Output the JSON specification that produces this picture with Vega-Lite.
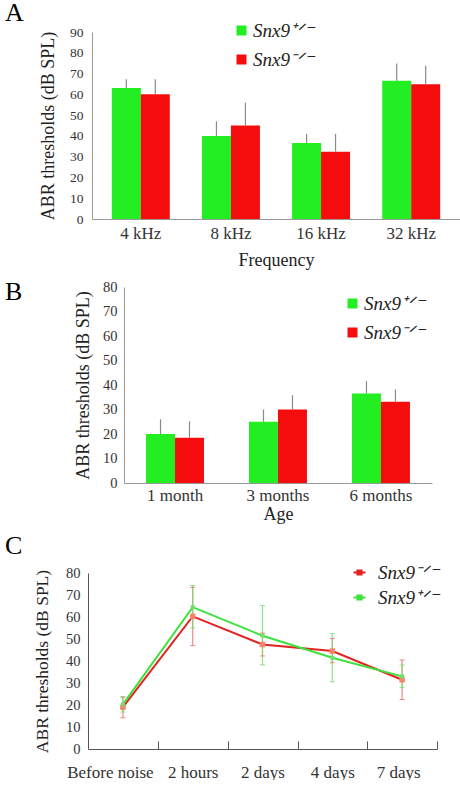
{
  "$schema": "https://vega.github.io/schema/vega-lite/v6.json",
  "background": "white",
  "padding": {"left": 5, "top": 0, "right": 0, "bottom": 0},
  "config": {
    "font": "Liberation Serif",
    "view": {"stroke": null},
    "axis": {
      "labelFont": "Liberation Serif",
      "titleFont": "Liberation Serif",
      "labelColor": "#333333",
      "titleColor": "#222222",
      "titleFontWeight": "normal",
      "labelOverlap": false,
      "grid": false
    },
    "legend": {
      "labelFont": "Liberation Serif",
      "labelFontStyle": "italic",
      "labelColor": "#222222",
      "labelFontSize": 19,
      "padding": 0
    },
    "title": {"font": "Liberation Serif", "fontWeight": "normal", "fontSize": 26, "color": "#000000", "anchor": "start", "frame": "group", "baseline": "alphabetic"}
  },
  "resolve": {"scale": {"color": "independent"}, "legend": {"color": "independent"}},
  "spacing": 10,
  "vconcat": [
    {
      "title": {"text": "A", "dx": -83, "offset": -5},
      "width": 372,
      "height": 187,
      "data": {
        "values": [
          {"group": "4 kHz", "genotype": "Snx9+/-", "mean": 63.0, "upper": 67.2},
          {"group": "4 kHz", "genotype": "Snx9-/-", "mean": 60.0, "upper": 67.2},
          {"group": "8 kHz", "genotype": "Snx9+/-", "mean": 40.0, "upper": 47.0},
          {"group": "8 kHz", "genotype": "Snx9-/-", "mean": 45.0, "upper": 56.0},
          {"group": "16 kHz", "genotype": "Snx9+/-", "mean": 36.6, "upper": 41.0},
          {"group": "16 kHz", "genotype": "Snx9-/-", "mean": 32.4, "upper": 41.0},
          {"group": "32 kHz", "genotype": "Snx9+/-", "mean": 66.5, "upper": 74.8},
          {"group": "32 kHz", "genotype": "Snx9-/-", "mean": 64.8, "upper": 73.8}
        ]
      },
      "encoding": {
        "x": {
          "field": "group", "type": "nominal",
          "sort": ["4 kHz", "8 kHz", "16 kHz", "32 kHz"],
          "scale": {"range": [4, 372], "paddingInner": 0.357, "paddingOuter": 0.22},
          "axis": {"title": "Frequency", "labelAngle": 0, "labelFontSize": 17, "titleFontSize": 18, "ticks": false, "domainColor": "#999999", "labelPadding": 6, "titlePadding": 10}
        },
        "xOffset": {"field": "genotype", "type": "nominal", "sort": ["Snx9+/-", "Snx9-/-"], "scale": {"paddingInner": 0, "paddingOuter": 0}},
        "y": {
          "field": "mean", "type": "quantitative",
          "scale": {"domain": [0, 90], "nice": false},
          "axis": {"title": "ABR thresholds (dB SPL)", "offset": -4, "titleFontSize": 18, "labelFontSize": 13.5, "ticks": false, "domainColor": "#999999", "labelPadding": 9, "titlePadding": 12, "values": [0, 10, 20, 30, 40, 50, 60, 70, 80, 90]}
        }
      },
      "layer": [
        {
          "mark": {"type": "bar"},
          "encoding": {
            "color": {
              "field": "genotype", "type": "nominal",
              "scale": {"domain": ["Snx9+/-", "Snx9-/-"], "range": ["#22ee22", "#f50d0d"]},
              "legend": {"title": null, "orient": "none", "legendX": 144, "legendY": -11, "symbolType": "square", "symbolSize": 100, "symbolStrokeWidth": 0, "rowPadding": 9, "labelOffset": 2,
                "labelExpr": "datum.label === 'Snx9+/-' ? 'Snx9⁺ᐟ⁻' : 'Snx9⁻ᐟ⁻'"}
            }
          }
        },
        {
          "mark": {"type": "rule", "color": "#8a8a8a", "strokeWidth": 1.2},
          "encoding": {"y2": {"field": "upper"}}
        }
      ]
    },
    {
      "title": {"text": "B", "dx": -83, "dy": -3, "offset": -29},
      "width": 344,
      "height": 196,
      "data": {
        "values": [
          {"group": "1 month", "genotype": "Snx9+/-", "mean": 20.0, "upper": 26.0},
          {"group": "1 month", "genotype": "Snx9-/-", "mean": 18.5, "upper": 25.2},
          {"group": "3 months", "genotype": "Snx9+/-", "mean": 25.0, "upper": 30.0},
          {"group": "3 months", "genotype": "Snx9-/-", "mean": 30.0, "upper": 35.8},
          {"group": "6 months", "genotype": "Snx9+/-", "mean": 36.5, "upper": 41.6},
          {"group": "6 months", "genotype": "Snx9-/-", "mean": 33.2, "upper": 38.2}
        ]
      },
      "encoding": {
        "x": {
          "field": "group", "type": "nominal",
          "sort": ["1 month", "3 months", "6 months"],
          "scale": {"range": [36, 344], "paddingInner": 0.437, "paddingOuter": 0.214},
          "axis": {"title": "Age", "labelAngle": 0, "labelFontSize": 17, "titleFontSize": 18, "ticks": false, "domainColor": "#999999", "labelPadding": 4, "titlePadding": 2}
        },
        "xOffset": {"field": "genotype", "type": "nominal", "sort": ["Snx9+/-", "Snx9-/-"], "scale": {"paddingInner": 0, "paddingOuter": 0}},
        "y": {
          "field": "mean", "type": "quantitative",
          "scale": {"domain": [0, 80], "nice": false},
          "axis": {"title": "ABR thresholds (dB SPL)", "offset": -36, "titleFontSize": 18, "labelFontSize": 14.5, "ticks": false, "domainColor": "#999999", "labelPadding": 7, "titlePadding": 10, "values": [0, 10, 20, 30, 40, 50, 60, 70, 80]}
        }
      },
      "layer": [
        {
          "mark": {"type": "bar"},
          "encoding": {
            "color": {
              "field": "genotype", "type": "nominal",
              "scale": {"domain": ["Snx9+/-", "Snx9-/-"], "range": ["#22ee22", "#f50d0d"]},
              "legend": {"title": null, "orient": "none", "legendX": 255, "legendY": 7, "symbolType": "square", "symbolSize": 100, "symbolStrokeWidth": 0, "rowPadding": 9, "labelOffset": 2,
                "labelExpr": "datum.label === 'Snx9+/-' ? 'Snx9⁺ᐟ⁻' : 'Snx9⁻ᐟ⁻'"}
            }
          }
        },
        {
          "mark": {"type": "rule", "color": "#8a8a8a", "strokeWidth": 1.2},
          "encoding": {"y2": {"field": "upper"}}
        }
      ]
    },
    {
      "title": {"text": "C", "dx": -83, "offset": 4},
      "width": 349,
      "height": 176,
      "data": {
        "values": [
          {"time": "Before noise", "genotype": "Snx9-/-", "mean": 19.0, "lower": 14.2, "upper": 23.6},
          {"time": "2 hours", "genotype": "Snx9-/-", "mean": 60.3, "lower": 47.0, "upper": 73.5},
          {"time": "2 days", "genotype": "Snx9-/-", "mean": 47.5, "lower": 42.3, "upper": 52.7},
          {"time": "4 days", "genotype": "Snx9-/-", "mean": 44.5, "lower": 39.2, "upper": 50.2},
          {"time": "7 days", "genotype": "Snx9-/-", "mean": 31.5, "lower": 22.5, "upper": 40.5},
          {"time": "Before noise", "genotype": "Snx9+/-", "mean": 20.3, "lower": 16.8, "upper": 23.8},
          {"time": "2 hours", "genotype": "Snx9+/-", "mean": 64.5, "lower": 55.0, "upper": 74.3},
          {"time": "2 days", "genotype": "Snx9+/-", "mean": 51.5, "lower": 38.2, "upper": 65.2},
          {"time": "4 days", "genotype": "Snx9+/-", "mean": 41.5, "lower": 30.6, "upper": 52.4},
          {"time": "7 days", "genotype": "Snx9+/-", "mean": 33.0, "lower": 28.0, "upper": 38.2}
        ]
      },
      "encoding": {
        "x": {
          "field": "time", "type": "ordinal",
          "sort": ["Before noise", "2 hours", "2 days", "4 days", "7 days"],
          "scale": {"type": "point", "padding": 0.5},
          "axis": {"title": null, "labelAngle": 0, "labelFontSize": 17, "domainColor": "#555555", "tickColor": "#555555", "tickSize": -8, "tickOffset": 35, "labelPadding": 23,
            "labelOffset": {"condition": [{"test": "datum.value === 'Before noise'", "value": -48}, {"test": "datum.value === '7 days'", "value": -39}], "value": -35}}
        }
      },
      "layer": [
        {
          "mark": {"type": "line", "strokeWidth": 2},
          "encoding": {
            "y": {
              "field": "mean", "type": "quantitative",
              "scale": {"domain": [0, 80], "nice": false},
              "axis": {"title": "ABR thresholds (dB SPL)", "titleFontSize": 17.5, "labelFontSize": 14.5, "ticks": false, "domainColor": "#555555", "labelPadding": 8, "titlePadding": 14, "values": [0, 10, 20, 30, 40, 50, 60, 70, 80]}
            },
            "color": {
              "field": "genotype", "type": "nominal",
              "scale": {"domain": ["Snx9-/-", "Snx9+/-"], "range": ["#e32222", "#3ee03e"]},
              "legend": {"title": null, "orient": "none", "legendX": 262, "legendY": -10, "symbolType": "M-1,0H1M-0.35,-0.35H0.35V0.35H-0.35Z", "symbolSize": 144, "symbolStrokeWidth": 2, "rowPadding": 5, "labelOffset": 9,
                "labelExpr": "datum.label === 'Snx9+/-' ? 'Snx9⁺ᐟ⁻' : 'Snx9⁻ᐟ⁻'",
                "encode": {"symbols": {"update": {"fill": [{"test": "datum.value === 'Snx9-/-'", "value": "#e32222"}, {"value": "#3ee03e"}]}}}}
            }
          }
        },
        {
          "mark": {"type": "rule", "strokeWidth": 1.2, "opacity": 0.8},
          "encoding": {
            "y": {
              "field": "lower", "type": "quantitative",
              "axis": {"title": "ABR thresholds (dB SPL)", "titleFontSize": 17.5, "labelFontSize": 14.5, "ticks": false, "domainColor": "#555555", "labelPadding": 8, "titlePadding": 14, "values": [0, 10, 20, 30, 40, 50, 60, 70, 80]}
            },
            "y2": {"field": "upper"},
            "color": {"condition": {"test": "datum.genotype === 'Snx9-/-'", "value": "#f06a6a"}, "value": "#6ee06e"}
          }
        },
        {
          "mark": {"type": "tick", "size": 5, "thickness": 1, "orient": "horizontal", "opacity": 0.8},
          "encoding": {
            "y": {
              "field": "lower", "type": "quantitative",
              "axis": {"title": "ABR thresholds (dB SPL)", "titleFontSize": 17.5, "labelFontSize": 14.5, "ticks": false, "domainColor": "#555555", "labelPadding": 8, "titlePadding": 14, "values": [0, 10, 20, 30, 40, 50, 60, 70, 80]}
            },
            "color": {"condition": {"test": "datum.genotype === 'Snx9-/-'", "value": "#f06a6a"}, "value": "#6ee06e"}
          }
        },
        {
          "mark": {"type": "tick", "size": 5, "thickness": 1, "orient": "horizontal", "opacity": 0.8},
          "encoding": {
            "y": {
              "field": "upper", "type": "quantitative",
              "axis": {"title": "ABR thresholds (dB SPL)", "titleFontSize": 17.5, "labelFontSize": 14.5, "ticks": false, "domainColor": "#555555", "labelPadding": 8, "titlePadding": 14, "values": [0, 10, 20, 30, 40, 50, 60, 70, 80]}
            },
            "color": {"condition": {"test": "datum.genotype === 'Snx9-/-'", "value": "#f06a6a"}, "value": "#6ee06e"}
          }
        },
        {
          "mark": {"type": "point", "shape": "square", "filled": true, "opacity": 1},
          "encoding": {
            "y": {
              "field": "mean", "type": "quantitative",
              "axis": {"title": "ABR thresholds (dB SPL)", "titleFontSize": 17.5, "labelFontSize": 14.5, "ticks": false, "domainColor": "#555555", "labelPadding": 8, "titlePadding": 14, "values": [0, 10, 20, 30, 40, 50, 60, 70, 80]}
            },
            "size": {"condition": {"test": "datum.genotype === 'Snx9-/-'", "value": 30}, "value": 16},
            "color": {"condition": {"test": "datum.genotype === 'Snx9-/-'", "value": "#f4846a"}, "value": "#6ee06e"}
          }
        }
      ]
    }
  ]
}
